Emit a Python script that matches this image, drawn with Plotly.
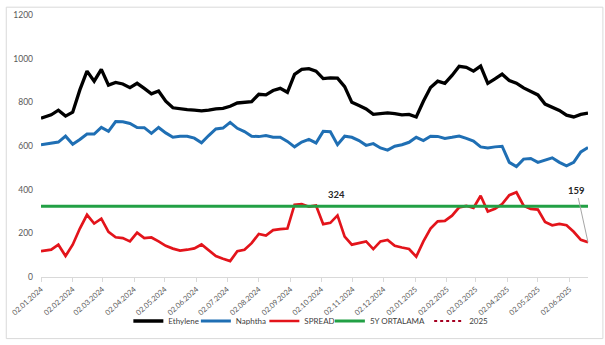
import pandas as pd
import plotly.graph_objects as go

# ---- data ----
dates = [pd.Timestamp("2024-01-02")] + list(pd.date_range("2024-01-12", periods=76, freq="7D"))

ethylene = [727, 743, 764, 737, 755, 857, 943, 897, 951, 879,
            891, 884, 867, 887, 864, 839, 852, 805, 775, 770,
            767, 764, 761, 764, 770, 772, 782, 797, 800, 803,
            837, 834, 854, 864, 846, 928, 951, 954, 943, 909,
            912, 911, 872, 800, 785, 770, 745, 749, 752, 748,
            743, 745, 733, 805, 868, 897, 887, 923, 965, 960,
            943, 966, 887, 907, 929, 900, 888, 866, 850, 834,
            792, 778, 763, 741, 733, 745, 751]

naphtha = [606, 615, 618, 645, 608, 630, 655, 655, 685, 667,
           712, 711, 703, 685, 684, 658, 685, 660, 640, 645,
           645, 636, 615, 648, 678, 682, 708, 681, 666, 645,
           643, 648, 640, 640, 621, 596, 618, 630, 614, 667,
           665, 606, 645, 640, 625, 603, 611, 591, 581, 599,
           606, 617, 640, 625, 645, 644, 635, 640, 646, 635,
           623, 596, 591, 596, 599, 525, 506, 540, 543, 525,
           536, 546, 525, 509, 525, 573, 593]

spread = [118, 125, 148, 96, 148, 222, 285, 245, 267, 207,
          182, 178, 163, 203, 178, 181, 163, 143, 130, 121,
          125, 131, 149, 121, 96, 84, 73, 118, 125, 155,
          197, 190, 215, 219, 222, 331, 334, 322, 327, 242,
          248, 282, 185, 148, 155, 163, 128, 163, 170, 143,
          135, 128, 93, 163, 222, 255, 257, 281, 319, 326,
          316, 372, 300, 312, 334, 375, 388, 327, 312, 309,
          252, 237, 243, 237, 207, 170, 159]

avg_5y = 324
avg_5y_line = [avg_5y] * len(dates)

tick_dates = list(pd.date_range("2024-01-01", periods=18, freq="MS") + pd.Timedelta(days=1))
tick_labels = [d.strftime("%d.%m.%Y") for d in tick_dates]

y_ticks = [0, 200, 400, 600, 800, 1000, 1200]

label_324_pos = (pd.Timestamp("2024-10-17"), 376)
label_159_text_pos = (pd.Timestamp("2025-06-09"), 394)

# ---- figure ----
FONT = "Lato, Open Sans, sans-serif"
L, R, T, B = 37, 17, 10, 67
W, H = 605, 345
pw, ph = W - L - R, H - T - B

series = [
    ("Ethylene", ethylene, dict(color="#000000", width=3.3), 131),
    ("Naphtha", naphtha, dict(color="#1f6fb4", width=3), 199),
    ("SPREAD", spread, dict(color="#e3141b", width=2.7), 268),
    ("5Y ORTALAMA", avg_5y_line, dict(color="#22a045", width=3), 334),
    ("2025", None, dict(color="#a50021", width=2, dash="dot"), 434),
]

fig = go.Figure()
legend_layout = {}
for i, (name, vals, line, lx) in enumerate(series):
    key = "legend" if i == 0 else f"legend{i + 1}"
    if vals is None:
        tr = go.Scatter(x=[None], y=[None], name=name, mode="lines", line=line, legend=key)
    else:
        tr = go.Scatter(x=dates, y=vals, name=name, mode="lines", line=line, legend=key)
    fig.add_trace(tr)
    legend_layout[key] = dict(x=(lx - 6 - L) / pw, xanchor="left",
                              y=(ph + T - 323) / ph, yanchor="middle",
                              font=dict(family=FONT, size=8, color="#404040"),
                              itemwidth=30, bgcolor="rgba(0,0,0,0)",
                              orientation="h")

fig.add_annotation(x=label_324_pos[0], y=label_324_pos[1], text="<b>324</b>",
                   showarrow=False, font=dict(family=FONT, size=9.5, color="#262626"))
fig.add_annotation(x=dates[-1], y=spread[-1], text="<b>159</b>",
                   showarrow=True, arrowhead=0, arrowwidth=1, arrowcolor="#a6a6a6",
                   axref="x", ayref="y", ax=label_159_text_pos[0], ay=label_159_text_pos[1],
                   font=dict(family=FONT, size=9.5, color="#262626"))

fig.add_shape(type="rect", xref="paper", yref="paper",
              x0=(2 - L) / pw, x1=(W - 2 - L) / pw,
              y0=(T + ph - (H - 4)) / ph, y1=(T + ph - 2) / ph,
              line=dict(color="#d9d9d9", width=1), layer="below")

fig.update_layout(
    width=W, height=H,
    margin=dict(l=L, r=R, t=T, b=B, pad=0),
    paper_bgcolor="white", plot_bgcolor="white",
    font=dict(family=FONT, color="#595959"),
    showlegend=True,
    **legend_layout,
)
fig.update_xaxes(type="date", range=[dates[0], dates[-1]],
                 tickvals=tick_dates, ticktext=tick_labels, tickangle=-42,
                 tickfont=dict(size=7.5, color="#595959", family=FONT),
                 showline=True, linecolor="#d9d9d9", linewidth=1,
                 ticks="outside", ticklen=4, tickcolor="#d9d9d9",
                 showgrid=False, zeroline=False)
fig.update_yaxes(range=[0, 1200], tickvals=y_ticks,
                 tickfont=dict(size=8.5, color="#595959", family=FONT),
                 showgrid=False, showline=False, zeroline=False,
                 ticks="", ticklabelstandoff=7)

fig.write_html("out.html")
